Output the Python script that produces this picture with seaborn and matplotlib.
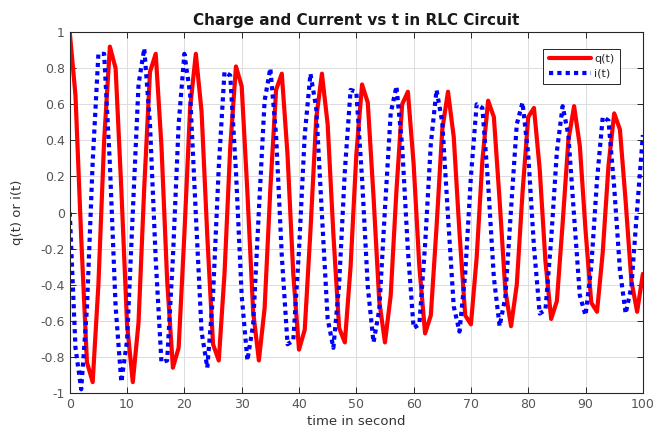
import numpy as np
import pandas as pd
import matplotlib
matplotlib.use("Agg")
import matplotlib.pyplot as plt
from matplotlib.ticker import FuncFormatter
import seaborn as sns

# time samples (s)
t = list(range(0, 101))
# charge q(t)
q = [1.00,0.65,-0.14,-0.83,-0.94,-0.40,0.40,0.92,0.80,0.13,-0.62,-0.94,-0.61,0.14,0.78,0.88,0.37,-0.38,-0.86,-0.75,
     -0.12,0.58,0.88,0.56,-0.13,-0.73,-0.82,-0.34,0.36,0.81,0.70,0.11,-0.55,-0.82,-0.53,0.13,0.68,0.77,0.32,-0.34,
     -0.76,-0.65,-0.10,0.52,0.77,0.49,-0.12,-0.64,-0.72,-0.30,0.32,0.71,0.61,0.09,-0.49,-0.72,-0.46,0.12,0.60,0.67,
     0.27,-0.30,-0.67,-0.57,-0.08,0.46,0.67,0.42,-0.11,-0.57,-0.62,-0.25,0.29,0.62,0.53,0.07,-0.43,-0.63,-0.40,0.11,
     0.53,0.58,0.24,-0.27,-0.59,-0.49,-0.06,0.40,0.59,0.37,-0.10,-0.50,-0.55,-0.22,0.26,0.55,0.46,0.06,-0.38,-0.55,
     -0.34]
# current i(t)
i = [0.00,-0.75,-0.98,-0.53,0.28,0.88,0.88,0.27,-0.52,-0.94,-0.71,0.00,0.71,0.91,0.49,-0.26,-0.83,-0.82,-0.25,0.49,
     0.88,0.66,-0.01,-0.66,-0.86,-0.46,0.25,0.78,0.76,0.23,-0.46,-0.82,-0.62,0.01,0.62,0.80,0.43,-0.24,-0.73,-0.71,
     -0.21,0.43,0.77,0.58,-0.01,-0.59,-0.75,-0.40,0.23,0.68,0.67,0.19,-0.41,-0.72,-0.54,0.02,0.55,0.70,0.37,-0.21,
     -0.64,-0.62,-0.18,0.38,0.68,0.50,-0.02,-0.52,-0.66,-0.34,0.20,0.60,0.58,0.16,-0.36,-0.63,-0.47,0.02,0.49,0.61,
     0.32,-0.19,-0.56,-0.54,-0.15,0.34,0.59,0.43,-0.02,-0.46,-0.57,-0.30,0.18,0.53,0.51,0.14,-0.32,-0.56,-0.41,0.02,
     0.43]

x_ticks = list(range(0, 101, 10))
y_ticks = [-1, -0.8, -0.6, -0.4, -0.2, 0, 0.2, 0.4, 0.6, 0.8, 1]

df = pd.DataFrame({"t": t, "q": q, "i": i})

sns.set_style("white")
plt.rcParams["font.family"] = ["DejaVu Sans"]

fig = plt.figure(figsize=(6.58, 4.41), dpi=100)
ax = fig.add_axes([0.106, 0.109, 0.871, 0.818])

sns.lineplot(data=df, x="t", y="q", ax=ax, color=(1, 0, 0), lw=3, label="q(t)")
sns.lineplot(data=df, x="t", y="i", ax=ax, color=(0, 0, 1), lw=3, ls=(0, (1, 1)), label="i(t)")

ax.set_xlim(0, 100)
ax.set_ylim(-1, 1)
ax.set_xticks(x_ticks)
ax.set_yticks(y_ticks)
ax.yaxis.set_major_formatter(FuncFormatter(lambda v, p: f"{v:g}"))
ax.grid(True, color="#dcdcdc", lw=0.7)
ax.set_axisbelow(True)
for s in ax.spines.values():
    s.set_color("#262626")
    s.set_linewidth(0.8)
ax.tick_params(direction="in", length=4, width=0.7, colors="#262626",
               labelcolor="#555555", labelsize=9, top=True, right=True,
               bottom=True, left=True)

ax.set_title("Charge and Current vs t in RLC Circuit", fontsize=11, fontweight="bold", color="#1a1a1a", pad=5)
ax.set_xlabel("time in second", fontsize=9.5, color="#333333", labelpad=3)
ax.set_ylabel("q(t) or i(t)", fontsize=9.5, color="#333333", labelpad=12)

leg = ax.legend(loc="upper right", bbox_to_anchor=(0.97, 0.97), fontsize=8, frameon=True, fancybox=False,
                edgecolor="#262626", framealpha=1, handlelength=3.8, borderpad=0.5, labelspacing=0.4,
                handletextpad=0.3)
leg.get_frame().set_linewidth(0.7)

fig.savefig("out.png", dpi=100)
